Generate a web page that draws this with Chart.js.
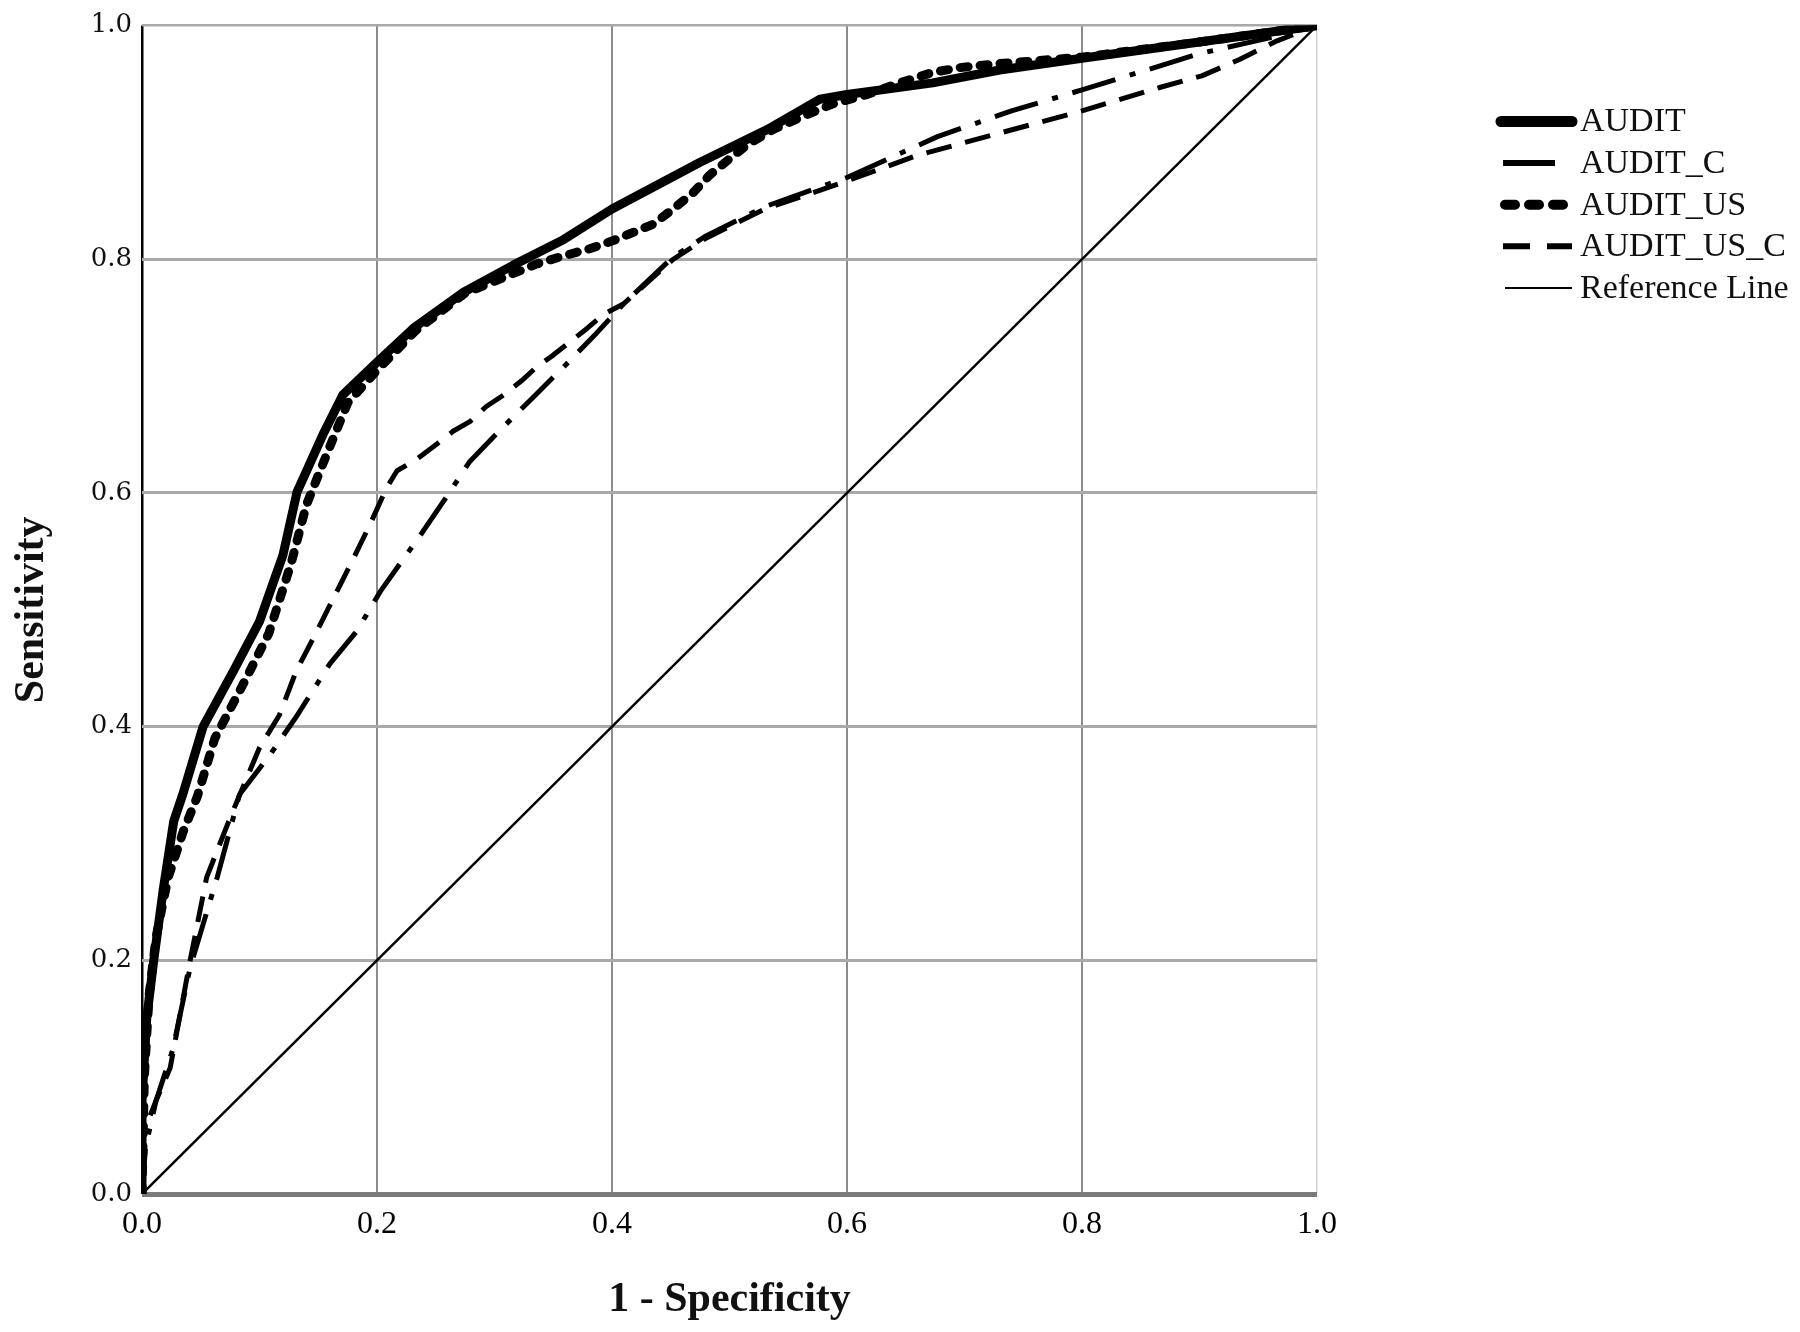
<!DOCTYPE html>
<html>
<head>
<meta charset="utf-8">
<script src="https://cdn.jsdelivr.net/npm/chart.js@4.4.1/dist/chart.umd.min.js"></script>
<style>
  html, body { margin: 0; padding: 0; background: #fff; }
  #roc { display: block; }
</style>
</head>
<body>
<canvas id="roc" width="1800" height="1332"></canvas>
<script>
// ROC curves
const auditX = [0, 0, 0.004, 0.01, 0.018, 0.027, 0.035, 0.052, 0.078, 0.1, 0.12, 0.132, 0.154, 0.171, 0.197, 0.231, 0.274, 0.316, 0.359, 0.4, 0.475, 0.532, 0.577, 0.6, 0.673, 0.73, 0.8, 0.9, 1];
const auditY = [0, 0.08, 0.15, 0.2, 0.26, 0.319, 0.343, 0.4, 0.448, 0.49, 0.547, 0.601, 0.65, 0.684, 0.709, 0.741, 0.772, 0.795, 0.817, 0.843, 0.883, 0.911, 0.937, 0.941, 0.951, 0.962, 0.972, 0.986, 1];

const auditCX = [0, 0.003, 0.012, 0.026, 0.041, 0.064, 0.083, 0.109, 0.131, 0.16, 0.183, 0.203, 0.237, 0.258, 0.279, 0.305, 0.333, 0.359, 0.387, 0.41, 0.452, 0.48, 0.53, 0.6, 0.677, 0.74, 0.8, 0.855, 0.9, 0.966, 1];
const auditCY = [0, 0.04, 0.08, 0.123, 0.194, 0.271, 0.342, 0.376, 0.408, 0.454, 0.482, 0.516, 0.564, 0.595, 0.627, 0.654, 0.682, 0.708, 0.737, 0.762, 0.802, 0.82, 0.845, 0.87, 0.905, 0.927, 0.945, 0.962, 0.976, 0.991, 1];

const auditUsX = [0, 0.002, 0.006, 0.012, 0.022, 0.035, 0.047, 0.062, 0.088, 0.108, 0.127, 0.14, 0.16, 0.175, 0.2, 0.233, 0.275, 0.336, 0.359, 0.381, 0.401, 0.418, 0.435, 0.452, 0.469, 0.483, 0.5, 0.515, 0.537, 0.571, 0.588, 0.617, 0.645, 0.673, 0.696, 0.724, 0.8, 0.9, 1];
const auditUsY = [0, 0.1, 0.17, 0.22, 0.27, 0.31, 0.34, 0.39, 0.44, 0.48, 0.54, 0.59, 0.64, 0.677, 0.705, 0.739, 0.771, 0.796, 0.803, 0.809, 0.816, 0.823, 0.83, 0.843, 0.857, 0.872, 0.886, 0.898, 0.911, 0.926, 0.933, 0.941, 0.951, 0.96, 0.964, 0.967, 0.973, 0.986, 1];

const auditUsCX = [0, 0.001, 0.012, 0.024, 0.041, 0.055, 0.075, 0.1, 0.117, 0.131, 0.149, 0.166, 0.18, 0.194, 0.208, 0.217, 0.234, 0.251, 0.265, 0.279, 0.293, 0.308, 0.323, 0.336, 0.35, 0.364, 0.379, 0.393, 0.41, 0.452, 0.48, 0.53, 0.6, 0.66, 0.73, 0.8, 0.866, 0.902, 0.934, 0.966, 1];
const auditUsCY = [0, 0.052, 0.08, 0.108, 0.2, 0.271, 0.322, 0.382, 0.41, 0.447, 0.482, 0.516, 0.544, 0.573, 0.604, 0.619, 0.629, 0.642, 0.653, 0.661, 0.674, 0.684, 0.696, 0.708, 0.718, 0.729, 0.741, 0.753, 0.762, 0.8, 0.818, 0.843, 0.867, 0.889, 0.908, 0.927, 0.947, 0.957, 0.971, 0.987, 1];

const refX = [0, 1];
const refY = [0, 1];

const tickValues = [0, 0.2, 0.4, 0.6, 0.8, 1.0];
const seriesNames = ["AUDIT", "AUDIT_C", "AUDIT_US", "AUDIT_US_C", "Reference Line"];

const zip = (xs, ys) => xs.map((x, i) => ({ x, y: ys[i] }));

// legend swatches, drawn beside the plot
const legendSwatches = [
  { width: 11, dash: [], cap: "round", x0: 1501, x1: 1572 },
  { width: 6, dash: [], cap: "butt", x0: 1503, x1: 1555 },
  { width: 10, dash: [10, 14], cap: "round", x0: 1505, x1: 1563 },
  { width: 6, dash: [27, 17], cap: "butt", x0: 1503, x1: 1572 },
  { width: 2, dash: [], cap: "butt", x0: 1505, x1: 1572 }
];

const sideLegend = {
  id: "sideLegend",
  afterDraw(chart) {
    const ctx = chart.ctx;
    ctx.save();
    ctx.font = '34px "Liberation Serif"';
    ctx.textBaseline = "middle";
    ctx.textAlign = "left";
    seriesNames.forEach((name, i) => {
      const s = legendSwatches[i];
      const y = 121.5 + i * 41.6;
      ctx.beginPath();
      ctx.strokeStyle = "#000";
      ctx.lineWidth = s.width;
      ctx.lineCap = s.cap;
      ctx.setLineDash(s.dash);
      ctx.moveTo(s.x0, y);
      ctx.lineTo(s.x1, y);
      ctx.stroke();
      ctx.setLineDash([]);
      ctx.fillStyle = "#111";
      ctx.fillText(name, 1580, y + 1);
    });
    ctx.restore();
  }
};

const lineStyle = { fill: false, tension: 0, pointRadius: 0, pointHoverRadius: 0, borderColor: "#000", borderJoinStyle: "round" };

new Chart(document.getElementById("roc"), {
  type: "line",
  data: {
    datasets: [
      { ...lineStyle, label: seriesNames[2], data: zip(auditUsX, auditUsY), borderWidth: 9, borderDash: [8, 12], borderCapStyle: "round" },
      { ...lineStyle, label: seriesNames[0], data: zip(auditX, auditY), borderWidth: 9 },
      { ...lineStyle, label: seriesNames[1], data: zip(auditCX, auditCY), borderWidth: 5, borderDash: [45, 15, 6, 15], borderCapStyle: "butt" },
      { ...lineStyle, label: seriesNames[3], data: zip(auditUsCX, auditUsCY), borderWidth: 5, borderDash: [26, 14], borderCapStyle: "butt" },
      { ...lineStyle, label: seriesNames[4], data: zip(refX, refY), borderWidth: 2.5 }
    ]
  },
  options: {
    responsive: false,
    animation: false,
    devicePixelRatio: 1,
    layout: { padding: { left: 0, top: 23, right: 483, bottom: 0 } },
    plugins: { legend: { display: false }, tooltip: { enabled: false } },
    scales: {
      x: {
        type: "linear",
        min: 0,
        max: 1,
        afterBuildTicks: (scale) => { scale.ticks = tickValues.map((v) => ({ value: v })); },
        afterFit: (scale) => { scale.height = 138; },
        border: { display: false },
        grid: {
          drawTicks: false,
          color: (c) => (c.tick.value === 0 ? "#000" : c.tick.value === 1 ? "#d4d4d4" : "#8c8c8c"),
          lineWidth: (c) => (c.tick.value === 0 ? 2.5 : c.tick.value === 1 ? 1.5 : 2)
        },
        ticks: {
          padding: 11,
          color: "#000",
          font: { family: "Liberation Serif", size: 32 },
          callback: (v) => Number(v).toFixed(1)
        },
        title: {
          display: true,
          text: "1 - Specificity",
          color: "#111",
          font: { family: "Liberation Serif", size: 42, weight: "bold" },
          padding: { top: 0, bottom: 7 }
        }
      },
      y: {
        type: "linear",
        min: 0,
        max: 1,
        afterBuildTicks: (scale) => { scale.ticks = tickValues.map((v) => ({ value: v })); },
        afterFit: (scale) => { scale.width = 142; },
        border: { display: false },
        grid: {
          drawTicks: false,
          color: (c) => (c.tick.value === 0 ? "#7a7a7a" : "#a9a9a9"),
          lineWidth: (c) => (c.tick.value === 0 ? 5 : c.tick.value === 1 ? 2.5 : 3)
        },
        ticks: {
          padding: 10,
          color: "#111",
          font: { family: "DejaVu Serif", size: 26 },
          callback: (v) => Number(v).toFixed(1)
        },
        title: {
          display: true,
          text: "Sensitivity",
          color: "#111",
          font: { family: "Liberation Serif", size: 42, weight: "bold", lineHeight: 1 },
          padding: { top: 11, bottom: 0 }
        }
      }
    }
  },
  plugins: [sideLegend]
});
</script>
</body>
</html>
